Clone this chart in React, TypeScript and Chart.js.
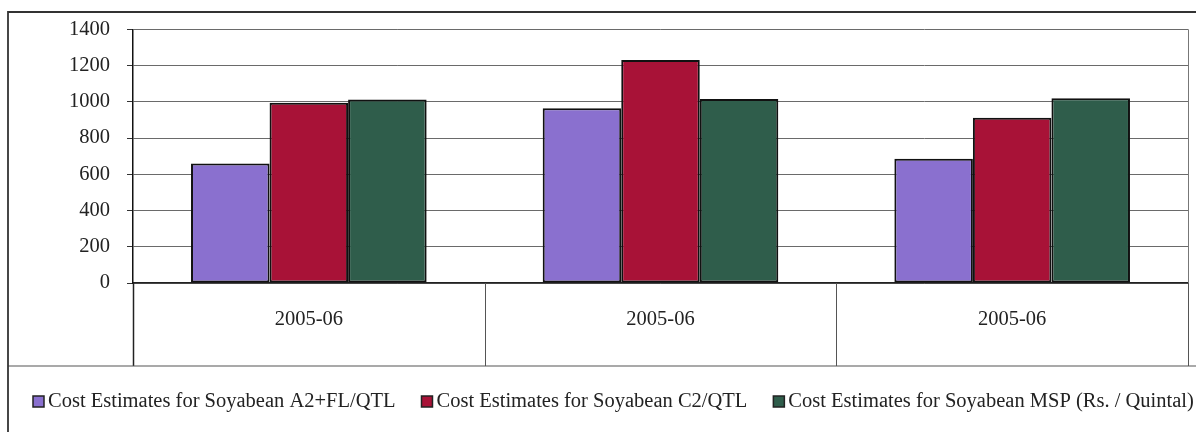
import React, { useEffect, useRef } from "react";
import { Chart, registerables } from "chart.js";

Chart.register(...registerables);

// ---- data ----
const categories = ["2005-06", "2005-06", "2005-06"];
const seriesA2FL = [660, 965, 685];
const seriesC2 = [995, 1230, 912];
const seriesMSP = [1012, 1015, 1020];
const seriesLabels = [
  "Cost Estimates for Soyabean A2+FL/QTL",
  "Cost Estimates for Soyabean C2/QTL",
  "Cost Estimates for Soyabean MSP (Rs. / Quintal)",
];
const seriesColors = ["#8a70cf", "#a81237", "#2f5d4b"];
const yMin = 0;
const yMax = 1400;
const yStep = 200;

const FONT = "'Liberation Serif', 'Times New Roman', serif";
const FS = 20.5;

const framePlugin = {
  id: "frameAndLegend",
  afterDraw(chart: any) {
    const { ctx, chartArea, scales } = chart;
    const xs = scales.x;
    const tableBottom = 366;
    ctx.save();
    // right border of plot
    ctx.strokeStyle = "#777";
    ctx.lineWidth = 1;
    ctx.beginPath();
    ctx.moveTo(chartArea.right + 0.5, chartArea.top);
    ctx.lineTo(chartArea.right + 0.5, tableBottom);
    ctx.stroke();
    // category dividers in the label band
    const n = chart.data.labels.length;
    const half = (xs.getPixelForValue(1) - xs.getPixelForValue(0)) / 2;
    for (let i = 0; i <= n; i++) {
      const x = i < n ? xs.getPixelForValue(i) - half : xs.getPixelForValue(n - 1) + half;
      ctx.strokeStyle = i === 0 ? "#222" : "#555";
      ctx.lineWidth = i === 0 ? 1.5 : 1;
      ctx.beginPath();
      ctx.moveTo(Math.round(x) + 0.5, chartArea.bottom);
      ctx.lineTo(Math.round(x) + 0.5, tableBottom);
      ctx.stroke();
    }
    // horizontal line under label band
    ctx.strokeStyle = "#555";
    ctx.lineWidth = 1.2;
    ctx.beginPath();
    ctx.moveTo(8, tableBottom);
    ctx.lineTo(chart.width, tableBottom);
    ctx.stroke();
    // outer frame
    ctx.strokeStyle = "#333";
    ctx.lineWidth = 1.8;
    ctx.beginPath();
    ctx.moveTo(8, chart.height);
    ctx.lineTo(8, 12);
    ctx.lineTo(chart.width, 12);
    ctx.stroke();
    // legend
    ctx.font = `${FS}px ${FONT}`;
    ctx.textBaseline = "middle";
    ctx.textAlign = "left";
    let x = 33;
    const cy = 402;
    chart.data.datasets.forEach((ds: any) => {
      ctx.fillStyle = ds.backgroundColor;
      ctx.fillRect(x, cy - 6, 11, 11);
      ctx.strokeStyle = "#222";
      ctx.lineWidth = 1.5;
      ctx.strokeRect(x, cy - 6, 11, 11);
      ctx.fillStyle = "#222";
      ctx.fillText(ds.label, x + 15, cy);
      x += 15 + ctx.measureText(ds.label).width + 26;
    });
    ctx.restore();
  },
};

export default function App() {
  const ref = useRef<HTMLCanvasElement | null>(null);
  useEffect(() => {
    if (!ref.current) return;
    const chart = new Chart(ref.current, {
      type: "bar",
      data: {
        labels: categories,
        datasets: [seriesA2FL, seriesC2, seriesMSP].map((d, i) => ({
          label: seriesLabels[i],
          data: d,
          backgroundColor: seriesColors[i],
          borderColor: "#111",
          borderWidth: 2,
          borderSkipped: false,
          categoryPercentage: 0.67,
          barPercentage: 1.0,
        })),
      },
      options: {
        animation: false,
        responsive: false,
        devicePixelRatio: 1,
        layout: { padding: { left: 0, right: 8, top: 28, bottom: 66 } },
        plugins: {
          legend: { display: false },
          tooltip: { enabled: false },
          title: { display: false },
        },
        scales: {
          x: {
            type: "category",
            offset: true,
            grid: { display: false, drawTicks: false },
            border: { display: true, color: "#222", width: 1.5 },
            ticks: {
              font: { family: FONT, size: FS },
              color: "#222",
              padding: 24,
              maxRotation: 0,
            },
            afterFit: (s: any) => {
              s.height = 83;
            },
          },
          y: {
            min: yMin,
            max: yMax,
            ticks: {
              stepSize: yStep,
              font: { family: FONT, size: FS },
              color: "#222",
              padding: 17,
              callback: (v: any) => String(v),
            },
            grid: {
              color: "#6a6a6a",
              lineWidth: 1,
              tickLength: 6,
              tickColor: "#333",
            },
            border: { display: true, color: "#111", width: 1.5 },
            afterFit: (s: any) => {
              s.width = 133;
            },
          },
        },
      },
      plugins: [framePlugin],
    });
    return () => chart.destroy();
  }, []);
  return (
    <div style={{ position: "fixed", left: 0, top: 0, width: 1196, height: 432, background: "#fff" }}>
      <canvas ref={ref} width={1196} height={432} style={{ display: "block" }} />
    </div>
  );
}
